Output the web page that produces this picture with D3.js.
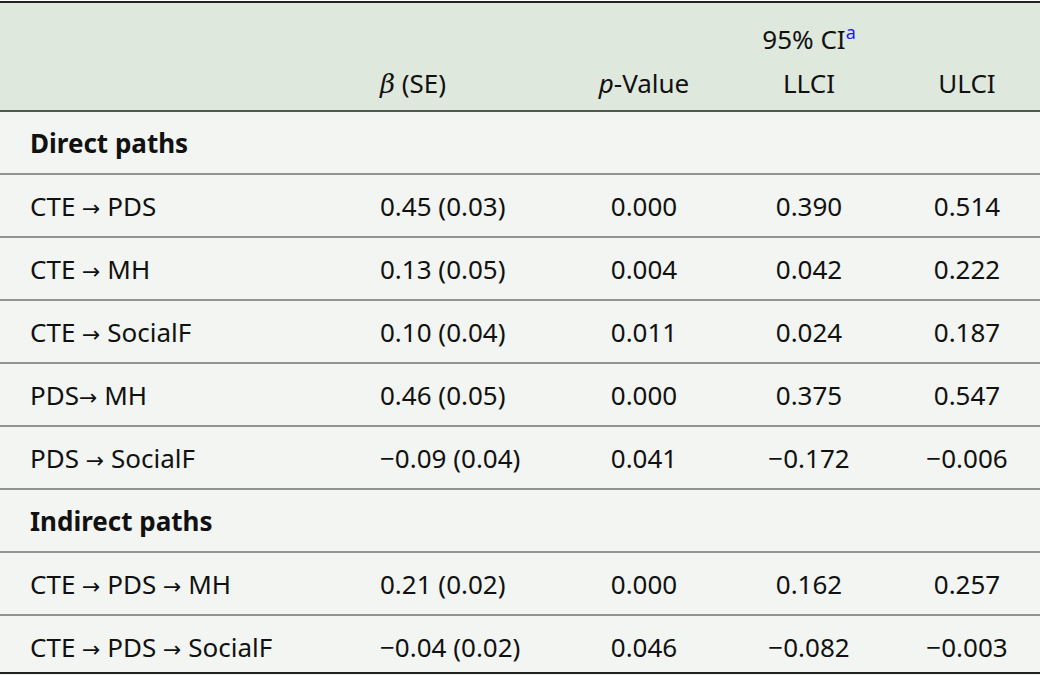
<!DOCTYPE html>
<html><head><meta charset="utf-8">
<script src="https://cdn.jsdelivr.net/npm/d3@7"></script>
<style>body{margin:0;background:#fff}</style>
</head><body><div id="table"></div>
<script>
var paths = ['Direct paths','CTE \u2192 PDS','CTE \u2192 MH','CTE \u2192 SocialF','PDS\u2192 MH','PDS \u2192 SocialF',
             'Indirect paths','CTE \u2192 PDS \u2192 MH','CTE \u2192 PDS \u2192 SocialF'];
var betaSE = ['', '0.45 (0.03)','0.13 (0.05)','0.10 (0.04)','0.46 (0.05)','\u22120.09 (0.04)','', '0.21 (0.02)','\u22120.04 (0.02)'];
var pValues = ['', '0.000','0.004','0.011','0.000','0.041','', '0.000','0.046'];
var llci = ['', '0.390','0.042','0.024','0.375','\u22120.172','', '0.162','\u22120.082'];
var ulci = ['', '0.514','0.222','0.187','0.547','\u22120.006','', '0.257','\u22120.003'];
var sectionRows = [0, 6];

var svgWidth = 1040, svgHeight = 675;
var headerTop = 2, headerBottom = 111;
var fs = 26;
var font = "'Noto Sans', sans-serif";

var svg = d3.select('#table').append('svg')
    .attr('width', svgWidth).attr('height', svgHeight)
    .style('font-family', font);

// row scale
var y = d3.scaleBand()
    .domain(d3.range(paths.length))
    .range([headerBottom, headerBottom + 63 * paths.length]);

// backgrounds
svg.append('rect').attr('x',0).attr('y',headerTop).attr('width',svgWidth)
    .attr('height',headerBottom-headerTop).attr('fill','#dfe8dd');
svg.append('rect').attr('x',0).attr('y',headerBottom).attr('width',svgWidth)
    .attr('height',svgHeight-headerBottom).attr('fill','#f2f5f2');

var cols = [
    {x: 30, anchor: 'start', vals: paths},
    {x: 380, anchor: 'start', vals: betaSE},
    {x: 644, anchor: 'middle', vals: pValues},
    {x: 809, anchor: 'middle', vals: llci},
    {x: 967, anchor: 'middle', vals: ulci}
];

// header
var hy = 93;
var hdr = svg.append('g').attr('font-size', fs).attr('fill', '#111');
var b = hdr.append('text').attr('x', 380).attr('y', hy);
b.append('tspan').attr('font-style','italic').attr('font-family',"'DejaVu Serif', serif").text('\u03b2');
b.append('tspan').text(' (SE)');
var p = hdr.append('text').attr('x', 644).attr('y', hy).attr('text-anchor','middle');
p.append('tspan').attr('font-style','italic').text('p');
p.append('tspan').text('-Value');
hdr.append('text').attr('x', 809).attr('y', hy).attr('text-anchor','middle').text('LLCI');
hdr.append('text').attr('x', 967).attr('y', hy).attr('text-anchor','middle').text('ULCI');
var ci = hdr.append('text').attr('x', 809).attr('y', 49).attr('text-anchor','middle');
ci.append('tspan').text('95% CI');
ci.append('tspan').attr('fill','#1a1aff').attr('font-size',18).attr('dy',-10).text('a');

// body cells
cols.forEach(function(c){
    var t = svg.append('g').selectAll('text')
        .data(c.vals).enter().append('text')
        .attr('x', c.x)
        .attr('y', (d,i) => y(i) + y.bandwidth()/2 + 10)
        .attr('text-anchor', c.anchor)
        .attr('font-size', fs)
        .attr('font-weight', (d,i) => sectionRows.includes(i) && c.x === 30 ? 'bold' : 'normal')
        .attr('fill', '#111');
    t.each(function(d){
        var el = d3.select(this);
        d.split(/(\u2192)/).forEach(function(part){
            var s = el.append('tspan').text(part);
            if (part === '\u2192') s.attr('font-family', "'DejaVu Sans', sans-serif").attr('font-size', 22);
        });
    });
});

// rules
var lines = d3.range(1, paths.length).map(i => y(i));
svg.append('g').selectAll('line').data(lines).enter().append('line')
    .attr('x1',0).attr('x2',svgWidth)
    .attr('y1',d=>d).attr('y2',d=>d)
    .attr('stroke','#333').attr('stroke-width',1.2);
[[headerTop,2],[headerBottom,1.5],[673,2]].forEach(function(l){
    svg.append('line').attr('x1',0).attr('x2',svgWidth)
        .attr('y1',l[0]).attr('y2',l[0]).attr('stroke','#222').attr('stroke-width',l[1]);
});
</script></body></html>
